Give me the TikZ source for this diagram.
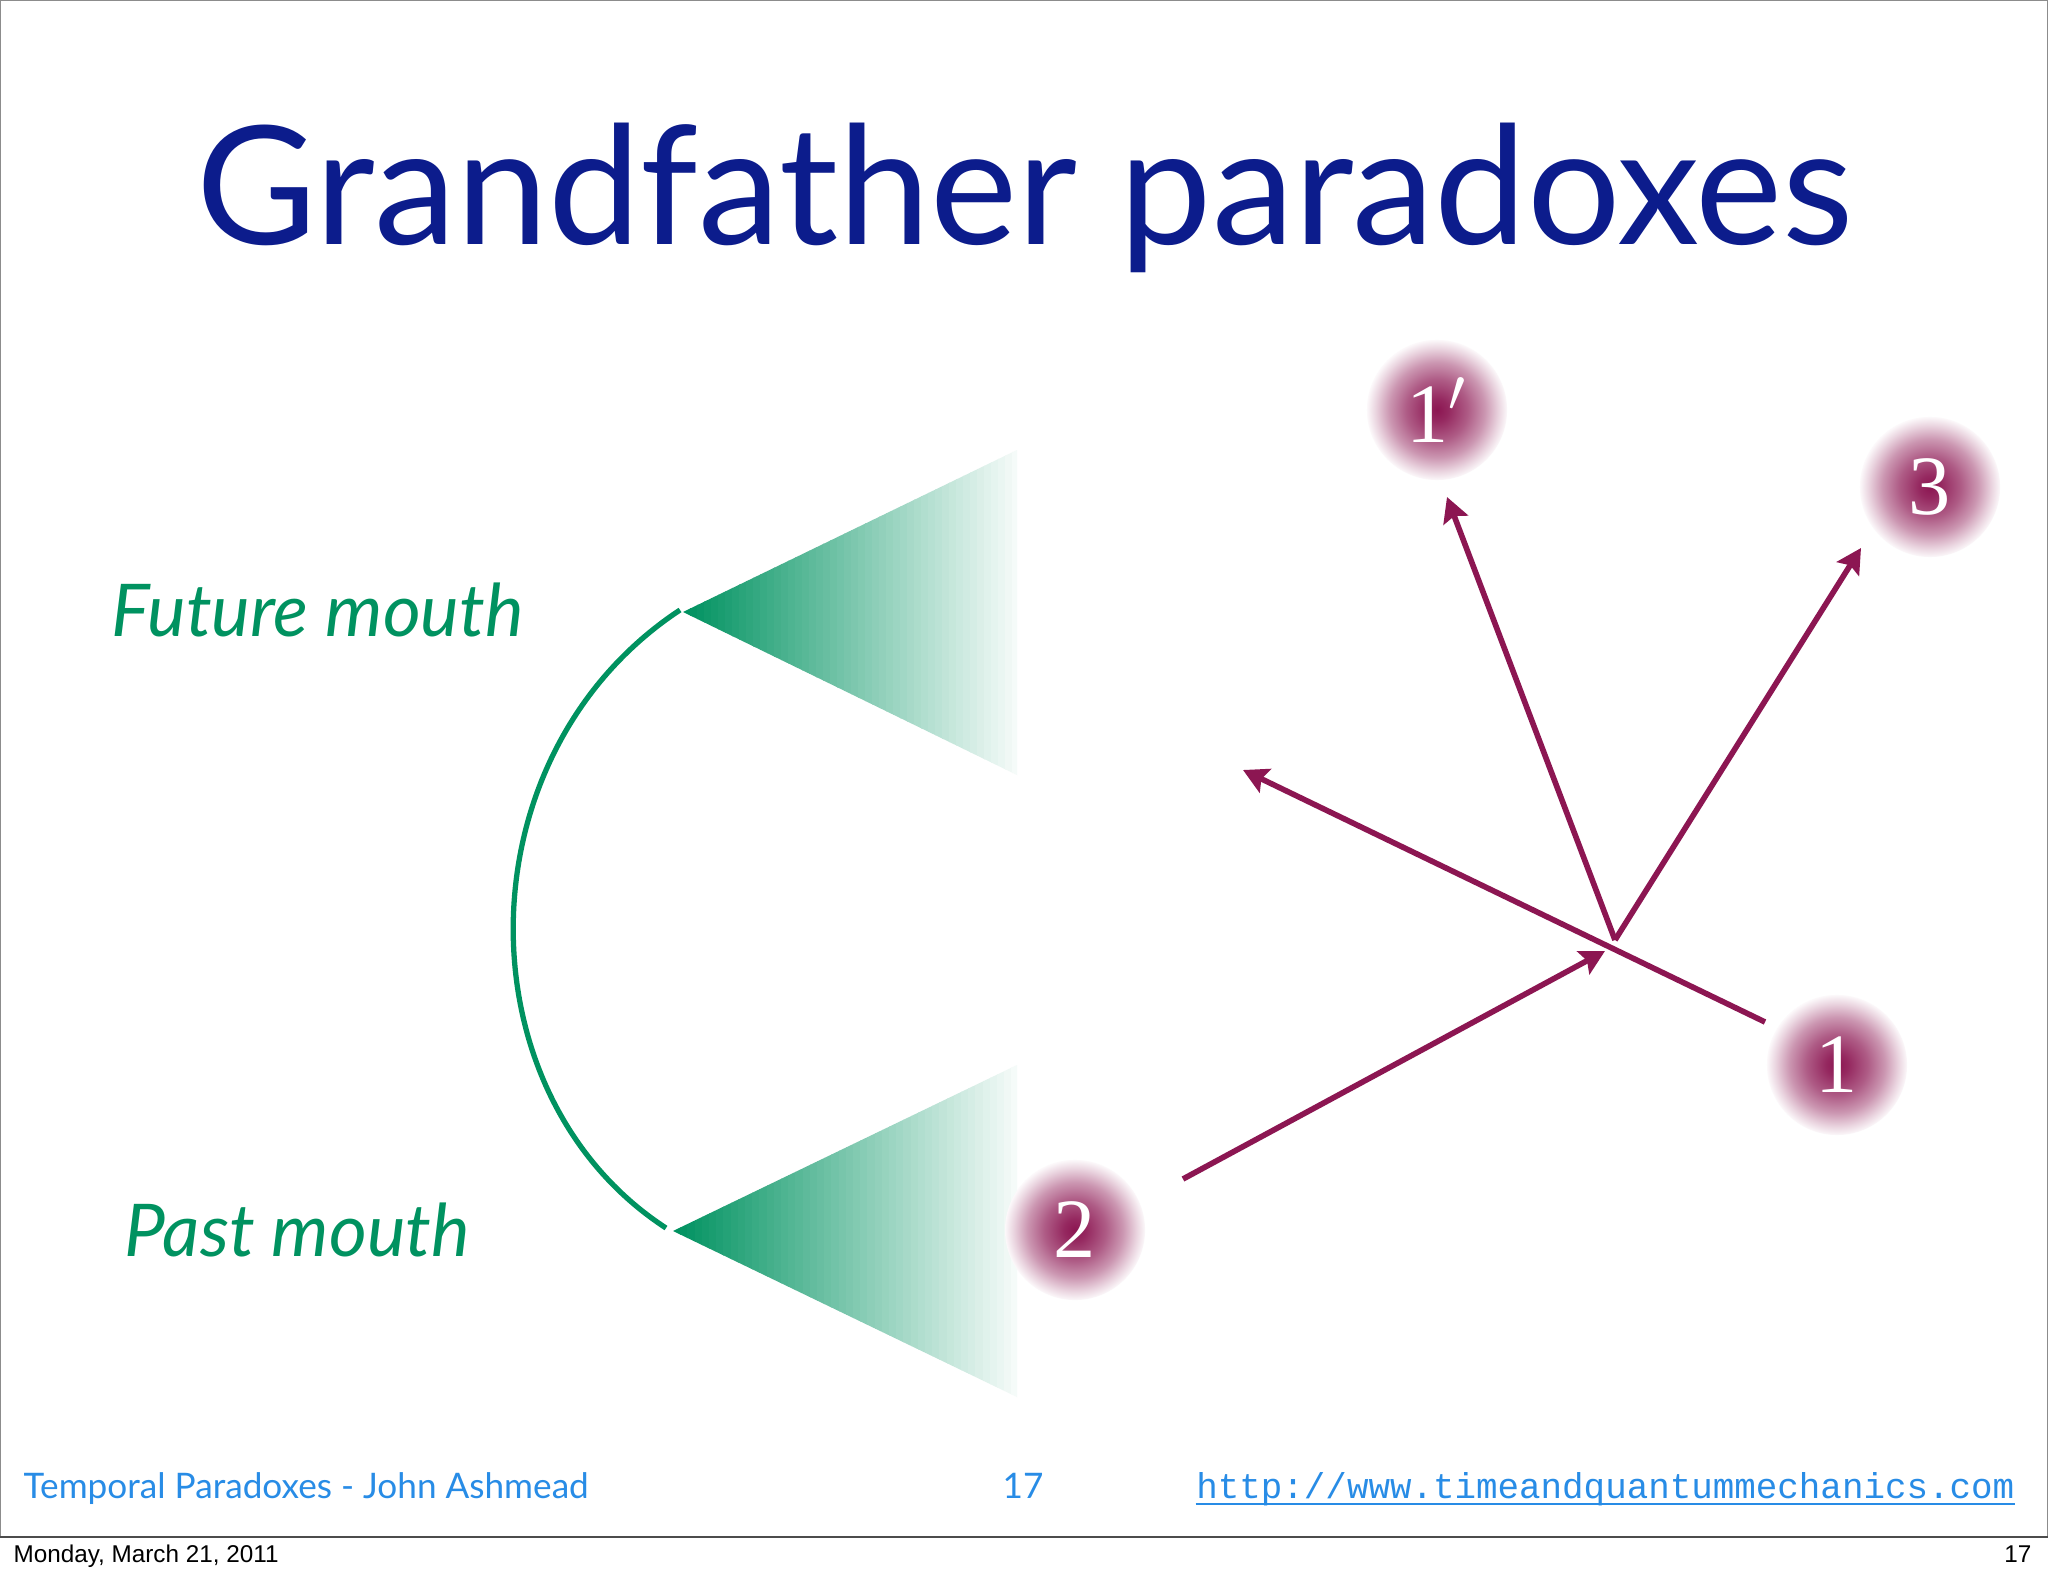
\documentclass[tikz,border=0pt]{standalone}
\usepackage{fontspec}
\setmainfont{Lato}
\newfontfamily\urlfont{Liberation Mono}
\newfontfamily\datefont{Liberation Sans}
\newfontfamily\digitfont{Liberation Serif}
\usetikzlibrary{arrows.meta}
\definecolor{titleblue}{RGB}{12,28,140}
\definecolor{mouthgreen}{RGB}{0,146,96}
\definecolor{ballred}{RGB}{140,22,82}
\definecolor{footblue}{RGB}{40,140,230}
\pgfdeclareradialshading{ballglow}{\pgfpoint{0bp}{0bp}}{color(0bp)=(ballred); color(4bp)=(ballred!92!white); color(11bp)=(ballred!70!white); color(17bp)=(ballred!45!white); color(22bp)=(ballred!18!white); color(25bp)=(ballred!3!white); color(50bp)=(white)}
\tikzset{
	ball/.style={circle, minimum size=1.4cm, inner sep=0, shading=ballglow, text=white, font=\fontsize{24}{26}\selectfont\digitfont},
	worldline/.style={ballred, line width=1.6pt, -{Stealth[length=7pt, width=7.4pt, inset=1.2pt]}},
	mouthlabel/.style={anchor=base west, inner sep=0, text=mouthgreen, font=\fontsize{20.7}{22}\selectfont\itshape},
	foot/.style={anchor=base, inner sep=0, text=footblue, font=\fontsize{10}{12}\selectfont},
}

\begin{document}
\begin{tikzpicture}[x=0.01cm, y=-0.01cm]
		\useasboundingbox (0,0) rectangle (2048,1576);
		\fill[white] (0,0) rectangle (2048,1576);
		\draw[black!45, line width=0.6pt] (0,0) rectangle (2048,1537);
		\draw[black!70, line width=0.8pt] (0,1537) -- (2048,1537);
		
		\node[anchor=base, inner sep=0, text=titleblue, font=\fontsize{46.9}{50}\selectfont] (title) at (1025,245) {Grandfather paradoxes};
		
		\coordinate (futap) at (683,612);
		\coordinate (pastap) at (673,1231);
		\begin{scope}
			\clip (futap) -- (1017,450) -- (1017,775) -- cycle;
			\foreach \k in {0,...,47}{
				\pgfmathsetmacro\pct{100-96*\k/47}
				\fill[mouthgreen!\pct!white] ({683+7*\k},440) rectangle ({691+7*\k},790);
			}
		\end{scope}
		\begin{scope}
			\clip (pastap) -- (1017,1065) -- (1017,1397) -- cycle;
			\foreach \k in {0,...,47}{
				\pgfmathsetmacro\pct{100-96*\k/47}
				\fill[mouthgreen!\pct!white] ({673+7.2*\k},1055) rectangle ({681.2+7.2*\k},1410);
			}
		\end{scope}
		\draw[mouthgreen, line width=1.5pt] (680,610) .. controls (460,755) and (460,1094) .. (666,1228);
		\node[mouthlabel] (future) at (111,636) {Future mouth};
		\node[mouthlabel] (past) at (124,1256) {Past mouth};
		
		\begin{scope}
			\node[ball] (one) at (1837,1065) {1};
			\node[ball] (two) at (1075,1230) {2};
			\node[ball] (three) at (1930,487) {3};
			\node[ball] (oneprime) at (1437,410) {1$'$};
			
			\coordinate (vertex) at (1615,940);
			\coordinate (hit) at (1605,951);
			\coordinate (back) at (1243,770);
			\coordinate (tailone) at (1765,1022);
			\coordinate (tailtwo) at (1183,1179);
			\coordinate (tothree) at (1861,548);
			\coordinate (tooneprime) at (1447,497);
			
			\draw[worldline] (tailone) -- (back);
			\draw[worldline] (tailtwo) -- (hit);
			\draw[worldline] (vertex) -- (tooneprime);
			\draw[worldline] (vertex) -- (tothree);
		\end{scope}
		
		\node[foot, anchor=base west] (author) at (23,1498) {Temporal Paradoxes - John Ashmead};
		\node[foot] (page) at (1023,1498) {17};
		\node[foot, anchor=base east, font=\fontsize{10.2}{12}\selectfont\urlfont] (url) at (2015,1498) {http://www.timeandquantummechanics.com};
		\draw[footblue, line width=0.5pt] ([yshift=-1.8pt]url.base west) -- ([yshift=-1.8pt]url.base east);
		
		\node[anchor=base west, inner sep=0, font=\fontsize{6.9}{8}\selectfont\datefont] (date) at (13,1562) {Monday, March 21, 2011};
		\node[anchor=base east, inner sep=0, font=\fontsize{6.9}{8}\selectfont\datefont] (sheet) at (2032,1562) {17};
	\end{tikzpicture}
\end{document}
